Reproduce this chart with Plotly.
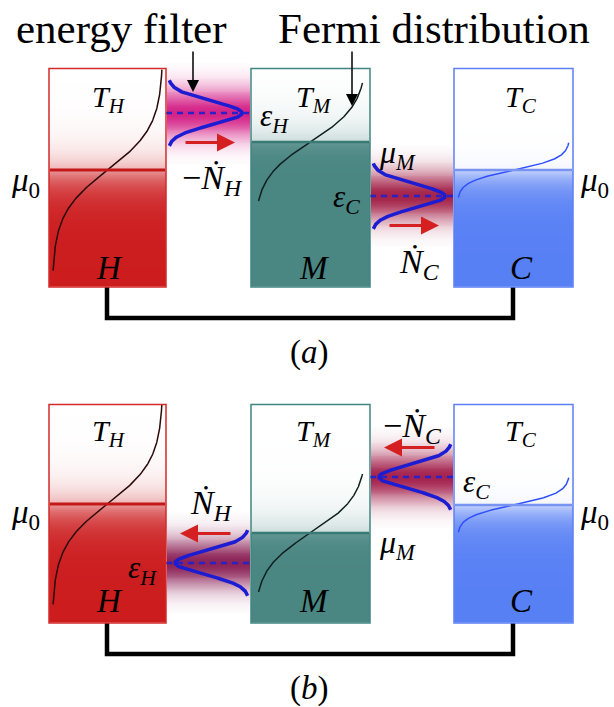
import numpy as np
import plotly.graph_objects as go

# ---------------- data (energies in arbitrary units, box spans 0..10) ----------------
reservoirs = ["H", "M", "C"]
kT = [1.0, 0.85, 0.28]                     # temperatures T_H > T_M > T_C
mu_panel_a = [5.35, 6.64, 5.35]            # mu_0, mu_M, mu_0
mu_panel_b = [5.45, 4.12, 5.40]
eps_panel_a = [7.96, 4.16]                 # eps_H, eps_C
eps_panel_b = [2.75, 6.68]
flow_dir_a = [1, 1]                        # +1 = particles flow to the right
flow_dir_b = [-1, -1]
current_labels_a = ["−<i>Ṅ</i><sub><i>H</i></sub>", "<i>Ṅ</i><sub><i>C</i></sub>"]
current_labels_b = ["<i>Ṅ</i><sub><i>H</i></sub>", "−<i>Ṅ</i><sub><i>C</i></sub>"]
panel_labels = ["(<i>a</i>)", "(<i>b</i>)"]
header_labels = ["energy filter", "Fermi distribution"]

# ---------------- layout constants (pixels) ----------------
W, H = 614, 707
BOX_L = [49, 251, 454]
BOX_R = [166, 370, 573]
PANEL_BOTTOM = [287, 623]
SCALE = 21.85
E_MAX = 10.0
CURVE_HALF = [4.6, 2.7, 1.25]              # drawn extent of each Fermi curve around mu
FILL = [(204, 28, 30), (74, 134, 130), (88, 128, 245)]
EDGE = ["#d42a2a", "#3f8580", "#5c7ff5"]
MULINE = ["#c41818", "#3a7a75", "#7894f2"]
MULINE_W = [3, 2.5, 2.5]
CURVE_COL = ["#2a0a0a", "#102020", "#2f4fff"]
# gradient shape: (value just above mu, width above, value just below, width below)
GRAD = [(0.35, 0.8, 0.45, 0.8), (0.3, 0.9, 0.85, 0.4), (0.08, 0.55, 0.35, 0.7)]
GLOW = [[(210, 25, 130), (160, 25, 65)], [(135, 25, 80), (160, 25, 70)]]
FONT = "Liberation Serif, Times New Roman, serif"

fig = go.Figure()
ann = []
shapes = []


def ypx(p, E):
    return PANEL_BOTTOM[p] - E * SCALE


def rgb(c):
    return "rgb(%d,%d,%d)" % c


for p, (mus, epss, dirs) in enumerate(
        [(mu_panel_a, eps_panel_a, flow_dir_a),
         (mu_panel_b, eps_panel_b, flow_dir_b)]):
    top = ypx(p, E_MAX)
    bot = ypx(p, 0)
    # ---- reservoir boxes with gradient fill ----
    for k, name in enumerate(reservoirs):
        yedges = np.arange(top, bot + 0.5, 1.0)
        yc = 0.5 * (yedges[:-1] + yedges[1:])
        E = (PANEL_BOTTOM[p] - yc) / SCALE
        a_up, w_up, a_dn, w_dn = GRAD[k]
        mu = mus[k]
        z = np.where(E > mu, a_up * np.exp(-(E - mu) / w_up),
                     1 - (1 - a_dn) * np.exp(-(mu - E) / w_dn))
        fig.add_trace(go.Heatmap(
            x=[BOX_L[k], BOX_R[k]], y=yedges, z=z.reshape(-1, 1),
            colorscale=[[0, "white"], [1, rgb(FILL[k])]], zmin=0, zmax=1,
            showscale=False, hoverinfo="skip", zsmooth=False))
        shapes.append(dict(type="rect", xref="x", yref="y", x0=BOX_L[k], x1=BOX_R[k],
                           y0=top, y1=bot, line=dict(color=EDGE[k], width=1.5)))
        shapes.append(dict(type="line", xref="x", yref="y", x0=BOX_L[k] + 1, x1=BOX_R[k] - 1,
                           y0=ypx(p, mu), y1=ypx(p, mu),
                           line=dict(color=MULINE[k], width=MULINE_W[k])))
        # Fermi distribution curve
        Ec = np.linspace(max(mu - CURVE_HALF[k], 0.0), min(mu + CURVE_HALF[k], E_MAX), 200)
        occ = 1.0 / (1.0 + np.exp((Ec - mu) / kT[k]))
        xc = BOX_L[k] + 3 + (BOX_R[k] - BOX_L[k] - 6) * (1 - occ)
        fig.add_trace(go.Scatter(x=xc, y=ypx(p, Ec), mode="lines",
                                 line=dict(color=CURVE_COL[k], width=1.5),
                                 hoverinfo="skip", showlegend=False))
    # ---- energy filters between neighbouring reservoirs ----
    for j in range(2):
        gl, gr = BOX_R[j], BOX_L[j + 1]
        eps = epss[j]
        # glow
        Eg = np.linspace(eps - 2.3, eps + 2.3, 110)
        ye = ypx(p, Eg)
        zg = np.exp(-(0.5 * (Eg[:-1] + Eg[1:]) - eps) ** 2 / (2 * 0.8 ** 2))
        fig.add_trace(go.Heatmap(
            x=[gl + 1, gr - 1], y=ye, z=zg.reshape(-1, 1),
            colorscale=[[0, "white"], [1, rgb(GLOW[p][j])]], zmin=0, zmax=1.05,
            showscale=False, hoverinfo="skip", zsmooth=False))
        # dashed energy level
        fig.add_trace(go.Scatter(x=[gl, gr], y=[ypx(p, eps)] * 2, mode="lines",
                                 line=dict(color="#2a22c8", width=2.5, dash="6px,5px"),
                                 hoverinfo="skip", showlegend=False))
        # transmission curve
        Ef = np.linspace(eps - 1.5, eps + 1.5, 200)
        amp = 0.87 * (gr - gl)
        g = np.exp(-(Ef - eps) ** 2 / (2 * 0.53 ** 2))
        if dirs[j] > 0:
            xf = gl + 2 + amp * g
        else:
            xf = gr - 2 - amp * g
        fig.add_trace(go.Scatter(x=xf, y=ypx(p, Ef), mode="lines",
                                 line=dict(color="#1c1cd2", width=3.5),
                                 hoverinfo="skip", showlegend=False))
        # particle-current arrow
        ya = ypx(p, eps - 1.35) if p == 0 else ypx(p, eps + 1.35)
        if dirs[j] > 0:
            tail, head = gl + 18, gl + 69
        else:
            tail, head = gl + 66, gl + 14
        ann.append(dict(x=head, y=ya, ax=tail, ay=ya, xref="x", yref="y", axref="x", ayref="y",
                        text="", showarrow=True, arrowhead=2, arrowsize=1.2, arrowwidth=3,
                        arrowcolor="#d42020"))

    # connecting wire
    yw = bot + 31
    fig.add_trace(go.Scatter(x=[107, 107, 513, 513], y=[bot, yw, yw, bot], mode="lines",
                             line=dict(color="black", width=4.5), hoverinfo="skip",
                             showlegend=False))


def label(x, y, text, size=24):
    ann.append(dict(x=x, y=y, xref="x", yref="y", text=text, showarrow=False,
                    font=dict(family=FONT, size=size, color="black"),
                    xanchor="center", yanchor="middle"))


# header labels and pointer arrows
label(121, 28, header_labels[0], 43)
label(434, 28, header_labels[1], 43)
ann.append(dict(x=193, y=92, ax=193, ay=50, xref="x", yref="y", axref="x", ayref="y",
                text="", showarrow=True, arrowhead=2, arrowsize=1.6, arrowwidth=1.5,
                arrowcolor="black"))
ann.append(dict(x=352, y=106, ax=352, ay=50, xref="x", yref="y", axref="x", ayref="y",
                text="", showarrow=True, arrowhead=2, arrowsize=1.6, arrowwidth=1.5,
                arrowcolor="black"))

T = ["<i>T</i><sub><i>H</i></sub>", "<i>T</i><sub><i>M</i></sub>", "<i>T</i><sub><i>C</i></sub>"]
NM = ["<i>H</i>", "<i>M</i>", "<i>C</i>"]
MU0 = "<i>μ</i><sub>0</sub>"
MUM = "<i>μ</i><sub><i>M</i></sub>"
EPH = "<i>ε</i><sub><i>H</i></sub>"
EPC = "<i>ε</i><sub><i>C</i></sub>"

# panel (a)
for k, x in enumerate([109, 314, 521]):
    label(x, 99, T[k], 30)
    label(x, 268, NM[k], 33)
label(25, 182, MU0, 33)
label(594, 182, MU0, 33)
label(397, 154, MUM, 32)
label(274, 118, EPH, 31)
label(346, 199, EPC, 31)
label(212, 180, current_labels_a[0], 34)
label(419, 264, current_labels_a[1], 34)
label(309, 352, panel_labels[0], 33)

# panel (b)
for k, x in enumerate([109, 314, 521]):
    label(x, 433, T[k], 30)
    label(x, 601, NM[k], 33)
label(25, 514, MU0, 33)
label(594, 514, MU0, 33)
label(397, 544, MUM, 32)
label(142, 570, EPH, 31)
label(476, 484, EPC, 31)
label(211, 505, current_labels_b[0], 34)
label(412, 428, current_labels_b[1], 34)
label(309, 688, panel_labels[1], 33)

fig.update_layout(
    width=W, height=H, margin=dict(l=0, r=0, t=0, b=0),
    paper_bgcolor="white", plot_bgcolor="white", showlegend=False,
    xaxis=dict(range=[0, W], visible=False, fixedrange=True),
    yaxis=dict(range=[H, 0], visible=False, fixedrange=True),
    shapes=shapes, annotations=ann,
)
fig.write_html("out.html", config={"displayModeBar": False},
               post_script="document.body.style.margin='0';document.body.style.overflow='hidden';")
